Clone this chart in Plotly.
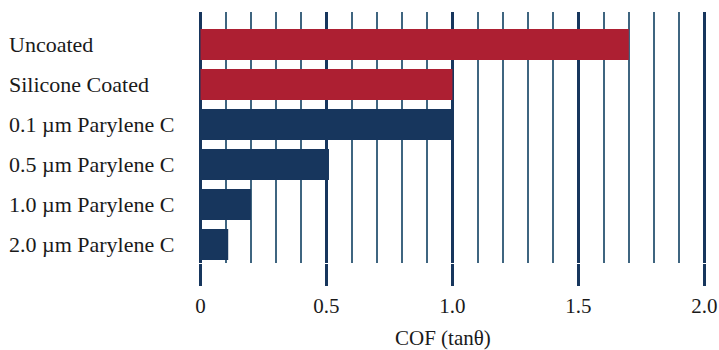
import plotly.graph_objects as go

categories = ["Uncoated", "Silicone Coated", "0.1 µm Parylene C", "0.5 µm Parylene C",
              "1.0 µm Parylene C", "2.0 µm Parylene C"]
cof_values = [1.70, 1.00, 1.00, 0.51, 0.20, 0.11]
bar_colors = ["#ad1f32", "#ad1f32", "#17365d", "#17365d", "#17365d", "#17365d"]
tick_vals = [0, 0.5, 1.0, 1.5, 2.0]
tick_text = ["0", "0.5", "1.0", "1.5", "2.0"]
x_title = "COF (tanθ)"

FONT = "Liberation Serif"
NAVY = "#17365d"

fig = go.Figure(go.Bar(
    y=categories, x=cof_values, orientation="h",
    marker=dict(color=bar_colors, line=dict(width=0)),
    width=0.775,
))

W, H = 719, 350
L, R, T, B = 200, 0, 12, 87
pw = W - L - R
ph = H - T - B

annotations = []
for c in categories:
    annotations.append(dict(
        x=(7 - L) / pw, xref="paper", xanchor="left",
        y=c, yref="y", yanchor="middle",
        text=c, showarrow=False,
        font=dict(family=FONT, size=22, color="#1a1a1a"),
    ))
annotations.append(dict(
    x=(443 - L) / pw, xref="paper", xanchor="center",
    y=(ph - (338 - T)) / ph, yref="paper", yanchor="middle",
    text=x_title, showarrow=False,
    font=dict(family=FONT, size=21, color="#1a1a1a"),
))

fig.update_layout(
    width=W, height=H,
    margin=dict(l=L, r=R, t=T, b=B),
    plot_bgcolor="white", paper_bgcolor="white",
    showlegend=False,
    annotations=annotations,
    xaxis=dict(
        range=[-0.002, 2.058],
        tickvals=tick_vals, ticktext=tick_text,
        showgrid=True, gridcolor=NAVY, gridwidth=3,
        zeroline=True, zerolinecolor=NAVY, zerolinewidth=3,
        ticks="outside", ticklen=22, tickwidth=3, tickcolor=NAVY,
        tickfont=dict(family=FONT, size=21, color="#1a1a1a"),
        ticklabelstandoff=2,
        showline=False,
        minor=dict(dtick=0.1, tick0=0, showgrid=True, gridcolor="#3f6580", gridwidth=2, ticks=""),
    ),
    yaxis=dict(
        categoryorder="array", categoryarray=categories,
        range=[5.4625, -0.8125],
        showticklabels=False, showgrid=False, zeroline=False, ticks="",
    ),
)

fig.write_html("out.html", config={"displayModeBar": False},
               post_script="document.body.style.margin='0';document.body.style.overflow='hidden';")
